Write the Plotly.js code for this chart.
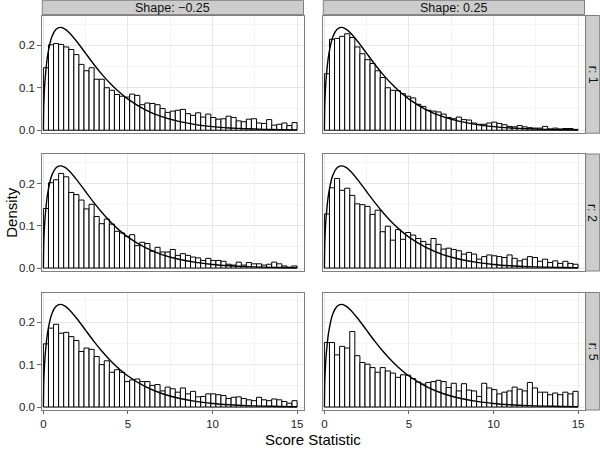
<!DOCTYPE html>
<html><head><meta charset="utf-8">
<script src="https://cdn.plot.ly/plotly-3.0.1.min.js"></script>
<style>html,body{margin:0;padding:0;background:#fff}#chart{width:600px;height:450px}</style>
</head><body><div id="chart"></div>
<script>
// ---- data ----
const shapeLabels = ["Shape: \u22120.25", "Shape: 0.25"];
const rLabels = ["r: 1", "r: 2", "r: 5"];
const binStart = 0;
const binWidth = 0.3;
const xTicks = [0, 5, 10, 15];
const yTicks = [0, 0.1, 0.2];
const yTickText = ["0.0", "0.1", "0.2"];

// histogram densities, 50 bins of width 0.3 from 0 to 15
const densNeg_r1 = [0.147,0.201,0.204,0.202,0.196,0.19,0.178,0.155,0.14,0.147,
  0.12,0.12,0.1,0.094,0.084,0.08,0.078,0.085,0.082,0.06,
  0.064,0.063,0.06,0.051,0.042,0.045,0.047,0.049,0.039,0.035,
  0.041,0.031,0.038,0.03,0.026,0.027,0.033,0.03,0.022,0.02,
  0.026,0.027,0.017,0.016,0.025,0.012,0.014,0.017,0.011,0.018];
const densPos_r1 = [0.133,0.214,0.216,0.221,0.227,0.218,0.196,0.18,0.166,0.157,
  0.14,0.124,0.1,0.094,0.093,0.086,0.08,0.076,0.061,0.056,
  0.047,0.045,0.043,0.038,0.03,0.027,0.031,0.025,0.024,0.017,
  0.014,0.014,0.017,0.019,0.016,0.013,0.009,0.008,0.011,0.008,
  0.006,0.005,0.005,0.009,0.003,0.005,0.003,0.004,0.004,0.002];
const densNeg_r2 = [0.141,0.202,0.209,0.224,0.216,0.179,0.174,0.161,0.14,0.151,
  0.122,0.105,0.116,0.104,0.087,0.083,0.075,0.079,0.053,0.061,
  0.058,0.04,0.049,0.038,0.038,0.044,0.03,0.034,0.03,0.026,
  0.024,0.018,0.023,0.018,0.018,0.016,0.009,0.007,0.014,0.007,
  0.013,0.01,0.01,0.007,0.009,0.014,0.01,0.005,0.002,0.005];
const densPos_r2 = [0.128,0.19,0.212,0.184,0.189,0.172,0.152,0.15,0.146,0.127,
  0.137,0.086,0.099,0.066,0.091,0.068,0.084,0.078,0.07,0.063,
  0.056,0.07,0.056,0.045,0.047,0.044,0.041,0.033,0.037,0.033,
  0.021,0.027,0.031,0.029,0.027,0.025,0.031,0.023,0.017,0.021,
  0.027,0.025,0.016,0.021,0.013,0.017,0.011,0.016,0.011,0.009];
const densNeg_r5 = [0.149,0.186,0.195,0.174,0.176,0.166,0.157,0.131,0.139,0.136,
  0.119,0.1,0.109,0.082,0.088,0.082,0.06,0.064,0.066,0.06,
  0.06,0.051,0.053,0.038,0.047,0.043,0.035,0.045,0.031,0.037,
  0.024,0.025,0.031,0.031,0.029,0.027,0.02,0.023,0.024,0.02,
  0.017,0.015,0.023,0.017,0.015,0.019,0.017,0.013,0.009,0.015];
const densPos_r5 = [0.152,0.152,0.123,0.143,0.139,0.178,0.121,0.105,0.101,0.093,
  0.082,0.093,0.085,0.08,0.07,0.076,0.075,0.067,0.059,0.054,
  0.058,0.06,0.063,0.06,0.046,0.056,0.038,0.055,0.04,0.038,
  0.025,0.056,0.045,0.041,0.031,0.035,0.038,0.047,0.042,0.038,
  0.058,0.045,0.035,0.035,0.029,0.033,0.029,0.035,0.031,0.037];

// reference density curve (identical in all six)
const curveX = [0,0.02,0.05,0.1,0.25,0.5,0.75,1,1.25,1.5,2,2.5,3,3.5,4,4.5,5,6,7,8,9,10,11,12,13,14,15];
const curveY = [0,0.056,0.087,0.12,0.176,0.22,0.2375,0.242,0.2387,0.2308,0.2076,0.1807,0.1542,0.1297,0.108,0.0892,0.0732,0.0487,0.0319,0.0207,0.0133,0.0085,0.0054,0.0034,0.0021,0.0013,0.0008];

// panels: rows = r, cols = shape
const panelData = [
  [densNeg_r1, densPos_r1],
  [densNeg_r2, densPos_r2],
  [densNeg_r5, densPos_r5]
];

// ---- layout geometry ----
const W = 600, H = 450;
const colPx = [[42.3, 303.5], [323.3, 584.5]];
const rowPx = [[15.5, 133.2], [154, 271], [292.5, 410]];
const px2x = p => p / W;
const px2y = p => 1 - p / H;

const FONT = "Liberation Sans, Arial, Helvetica, sans-serif";
const traces = [];
const layout = {
  width: W, height: H,
  margin: {l: 0, r: 0, t: 0, b: 0},
  paper_bgcolor: "white", plot_bgcolor: "white",
  showlegend: false, bargap: 0,
  font: {family: FONT, color: "#1a1a1a"},
  shapes: [], annotations: []
};

const binCenters = panelData[0][0].map((_, i) => binStart + binWidth * (i + 0.5));

for (let r = 0; r < 3; r++) {
  for (let c = 0; c < 2; c++) {
    const k = r * 2 + c + 1;
    const xa = k === 1 ? "x" : "x" + k;
    const ya = k === 1 ? "y" : "y" + k;
    traces.push({
      type: "bar", x: binCenters, y: panelData[r][c], width: binWidth,
      xaxis: xa, yaxis: ya,
      marker: {color: "white", line: {color: "black", width: 1}},
      hoverinfo: "skip"
    });
    traces.push({
      type: "scatter", mode: "lines", x: curveX, y: curveY,
      xaxis: xa, yaxis: ya,
      line: {color: "black", width: 1.4, shape: "spline", smoothing: 0.6},
      hoverinfo: "skip"
    });
    const bottom = r === 2, left = c === 0;
    layout["xaxis" + (k === 1 ? "" : k)] = {
      domain: [px2x(colPx[c][0]), px2x(colPx[c][1])],
      anchor: ya, range: [-0.065, 15.38],
      tickmode: "array", tickvals: xTicks,
      showticklabels: bottom, ticks: bottom ? "outside" : "",
      ticklen: 3, tickcolor: "#666", tickwidth: 1,
      tickfont: {size: 11.5, color: "#222", family: FONT},
      showgrid: true, gridcolor: "#e6e6e6", gridwidth: 1,
      minor: {tickvals: [2.5, 7.5, 12.5], showgrid: true, gridcolor: "#f4f4f4", ticks: ""},
      zeroline: false, showline: true, mirror: true, linecolor: "#7f7f7f", linewidth: 1
    };
    layout["yaxis" + (k === 1 ? "" : k)] = {
      domain: [px2y(rowPx[r][1]), px2y(rowPx[r][0])],
      anchor: xa, range: [-0.007, 0.27],
      tickmode: "array", tickvals: yTicks, ticktext: yTickText,
      showticklabels: left, ticks: left ? "outside" : "",
      ticklen: 4, tickcolor: "#666", tickwidth: 1,
      tickfont: {size: 11.5, color: "#222", family: FONT},
      showgrid: true, gridcolor: "#e6e6e6", gridwidth: 1,
      minor: {tickvals: [0.05, 0.15, 0.25], showgrid: true, gridcolor: "#f4f4f4", ticks: ""},
      zeroline: false, showline: true, mirror: true, linecolor: "#7f7f7f", linewidth: 1
    };
  }
}

// top strips
for (let c = 0; c < 2; c++) {
  layout.shapes.push({
    type: "rect", xref: "paper", yref: "paper",
    x0: px2x(colPx[c][0]), x1: px2x(colPx[c][1]),
    y0: px2y(14.6), y1: px2y(0.3),
    fillcolor: "#cccccc", line: {color: "#7f7f7f", width: 1}, layer: "below"
  });
  layout.annotations.push({
    xref: "paper", yref: "paper", x: (px2x(colPx[c][0]) + px2x(colPx[c][1])) / 2,
    y: px2y(7.6), text: shapeLabels[c], showarrow: false,
    xanchor: "center", yanchor: "middle",
    font: {size: 12.5, color: "#111", family: FONT}
  });
}
// right strips
for (let r = 0; r < 3; r++) {
  layout.shapes.push({
    type: "rect", xref: "paper", yref: "paper",
    x0: px2x(585.6), x1: px2x(599.7),
    y0: px2y(rowPx[r][1]), y1: px2y(rowPx[r][0]),
    fillcolor: "#cccccc", line: {color: "#7f7f7f", width: 1}, layer: "below"
  });
  layout.annotations.push({
    xref: "paper", yref: "paper", x: px2x(592.6),
    y: (px2y(rowPx[r][0]) + px2y(rowPx[r][1])) / 2,
    text: rLabels[r], showarrow: false, textangle: 90,
    xanchor: "center", yanchor: "middle",
    font: {size: 12.5, color: "#111", family: FONT}
  });
}
// axis titles
layout.annotations.push({
  xref: "paper", yref: "paper", x: (px2x(colPx[0][0]) + px2x(colPx[1][1])) / 2,
  y: px2y(439), text: "Score Statistic", showarrow: false,
  xanchor: "center", yanchor: "middle",
  font: {size: 15, color: "#000", family: FONT}
});
layout.annotations.push({
  xref: "paper", yref: "paper", x: px2x(12),
  y: (px2y(rowPx[0][0]) + px2y(rowPx[2][1])) / 2,
  text: "Density", showarrow: false, textangle: -90,
  xanchor: "center", yanchor: "middle",
  font: {size: 15, color: "#000", family: FONT}
});

Plotly.newPlot("chart", traces, layout, {staticPlot: true, displayModeBar: false});
</script>
</body></html>
